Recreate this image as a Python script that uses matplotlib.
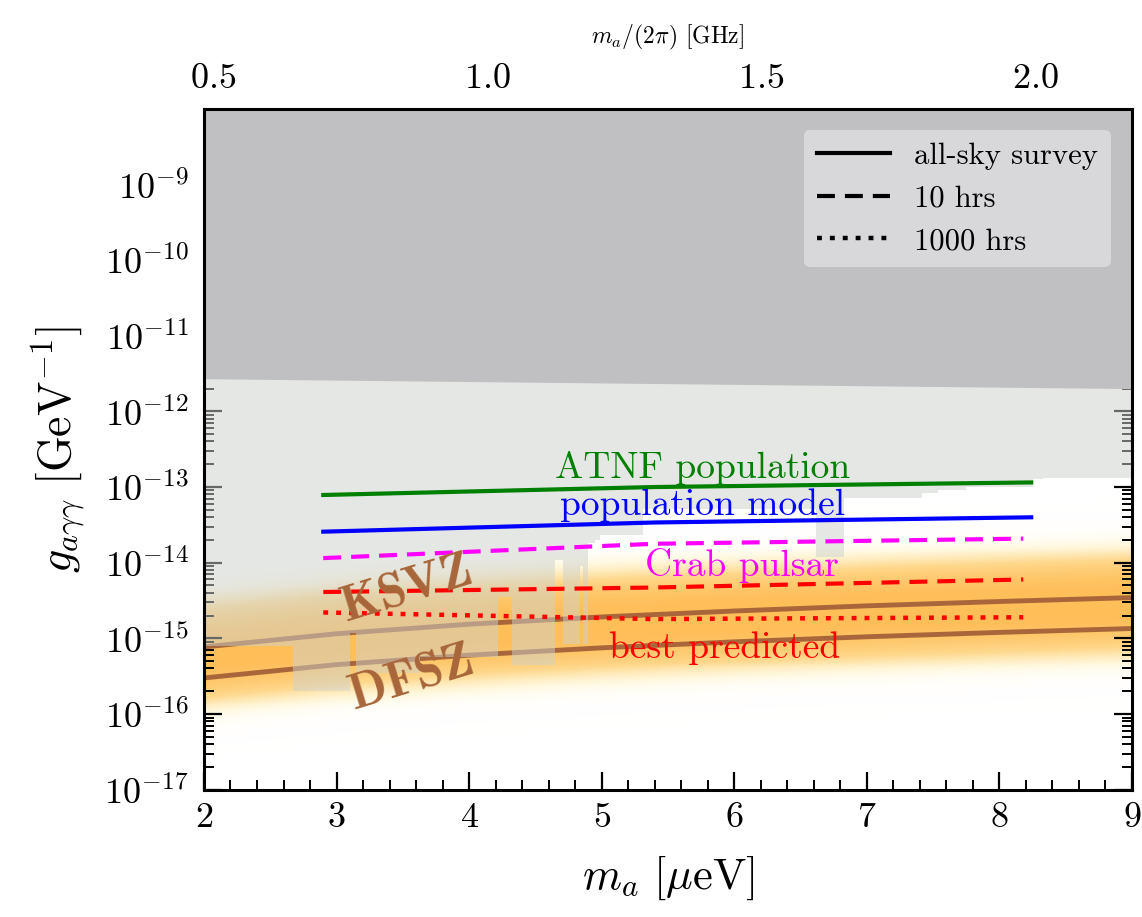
import numpy as np
import matplotlib
matplotlib.use("Agg")
import matplotlib.pyplot as plt
from matplotlib.colors import LinearSegmentedColormap
from matplotlib.lines import Line2D
from matplotlib.ticker import FixedLocator, MultipleLocator, LogLocator, NullFormatter

plt.rcParams['font.family'] = 'serif'
plt.rcParams['font.serif'] = ['cmr10', 'DejaVu Serif']
plt.rcParams['mathtext.fontset'] = 'cm'
plt.rcParams['axes.formatter.use_mathtext'] = True
plt.rcParams['axes.unicode_minus'] = False

# QCD axion model lines, read at integer masses [mu eV]
m_qcd = [2, 3, 4, 5, 6, 7, 8, 9]
g_ksvz = [7.7e-16, 1.15e-15, 1.54e-15, 1.92e-15, 2.3e-15, 2.69e-15, 3.07e-15, 3.46e-15]
g_dfsz = [3.0e-16, 4.5e-16, 6.0e-16, 7.5e-16, 9.0e-16, 1.05e-15, 1.2e-15, 1.35e-15]

# upper excluded region
m_astro = [2, 9]
g_astro = [2.7e-12, 2.0e-12]

# haloscope exclusions (step edges, lower bound of each step)
m_halo = [2.0, 2.67, 3.10, 3.15, 3.63, 4.22, 4.32, 4.65, 4.71, 4.84, 4.86, 4.90, 4.95, 4.99,
          5.31, 6.62, 6.83, 7.42, 7.54, 7.75, 8.25, 8.33, 9.0]
g_halo = [7.9e-16, 2.0e-16, 1.17e-15, 3.5e-16, 5.6e-16, 3.5e-15, 4.5e-16, 1.07e-14,
          8.3e-16, 9.0e-15, 8.3e-16, 1.8e-14, 2.0e-14, 2.3e-14, 5.2e-14, 1.2e-14, 7.1e-14,
          8.3e-14, 9.1e-14, 1.0e-13, 1.29e-13, 1.32e-13, 1.32e-13]

# projected sensitivities
m_solid = [2.9, 5.4, 8.24]
g_atnf = [7.85e-14, 1.0e-13, 1.15e-13]
g_popmodel = [2.57e-14, 3.4e-14, 3.98e-14]
m_dash = [2.9, 5.4, 8.18]
g_crab = [1.15e-14, 1.78e-14, 2.08e-14]
g_best_10 = [4.1e-15, 4.7e-15, 6.0e-15]
g_best_1000 = [2.2e-15, 1.8e-15, 1.9e-15]

brown = '#a8663a'
ev_to_ghz = 0.241799

fig = plt.figure(figsize=(11.42, 9.17), dpi=100)
ax = fig.add_axes([0.1786, 0.1388, 0.8126, 0.7427])
ax.set_yscale('log')
ax.set_xlim(2, 9)
ax.set_ylim(1e-17, 1e-8)

# QCD band
mm = np.linspace(2, 9, 300)
gg = np.logspace(-17, -8, 700)
M, G = np.meshgrid(mm, gg)
center = np.interp(M, m_qcd, np.log10(g_ksvz)) - 0.08
d = np.log10(G) - center
band = np.exp(-(np.abs(d) / 0.78) ** 3)
band_cmap = LinearSegmentedColormap.from_list(
    'band', [(1, 1, 1, 0), (1.0, 0.96, 0.80, 0.55), (0.996, 0.83, 0.50, 0.9),
             (0.996, 0.745, 0.345, 1.0)])
ax.pcolormesh(M, G, band, cmap=band_cmap, vmin=0, vmax=1, shading='auto',
              zorder=1, rasterized=True)

ax.plot(m_qcd, g_ksvz, '-', lw=3.5, color=brown, zorder=2)
ax.plot(m_qcd, g_dfsz, '-', lw=3.5, color=brown, zorder=2)

ax.fill_between(m_halo, g_halo, 1e-8, step='post', color='#cdd1cd', alpha=0.5,
                lw=0, zorder=3)
ax.fill_between(m_astro, g_astro, 1e-8, color='#c0c0c2', lw=0, zorder=3.5)

ax.plot(m_solid, g_atnf, '-', lw=3, color='green', zorder=4)
ax.plot(m_solid, g_popmodel, '-', lw=3, color='blue', zorder=4)
ax.plot(m_dash, g_crab, '-', lw=3, color='magenta', dashes=(4.3, 2.4), zorder=4)
ax.plot(m_dash, g_best_10, '-', lw=3, color='red', dashes=(4.3, 2.4), zorder=4)
ax.plot(m_dash, g_best_1000, '-', lw=3.2, color='red', dashes=(1.1, 1.8), zorder=4)

fs = 27
ax.text(5.76, 1.8e-13, 'ATNF population', color='green', fontsize=fs, ha='center', va='center', zorder=5)
ax.text(5.76, 5.8e-14, 'population model', color='blue', fontsize=fs, ha='center', va='center', zorder=5)
ax.text(6.06, 9.3e-15, 'Crab pulsar', color='magenta', fontsize=fs, ha='center', va='center', zorder=5)
ax.text(5.93, 7.4e-16, 'best predicted', color='red', fontsize=fs, ha='center', va='center', zorder=5)
ax.text(3.52, 4.4e-15, r'$\mathbf{KSVZ}$', color=brown, fontsize=36, ha='center', va='center',
        rotation=17, zorder=5)
ax.text(3.56, 2.9e-16, r'$\mathbf{DFSZ}$', color=brown, fontsize=36, ha='center', va='center',
        rotation=17, zorder=5)

# axes styling
for s in ax.spines.values():
    s.set_linewidth(2.2)
    s.set_zorder(10)
ax.xaxis.set_major_locator(MultipleLocator(1))
ax.xaxis.set_minor_locator(MultipleLocator(0.2))
ax.yaxis.set_major_locator(FixedLocator([10.0 ** k for k in range(-17, -8)]))
ax.yaxis.set_minor_locator(LogLocator(base=10, subs=np.arange(2, 10), numticks=20))
ax.yaxis.set_minor_formatter(NullFormatter())
ax.tick_params(which='both', direction='in', top=False, right=True, zorder=11)
ax.tick_params(which='major', length=13, width=1.6, labelsize=26)
ax.tick_params(which='minor', length=7, width=1.4)
ax.tick_params(axis='x', which='major', pad=9)
ax.tick_params(axis='y', which='major', pad=11)

ax.set_xlabel(r'$m_a\ [\mu\mathrm{eV}]$', fontsize=32, labelpad=14)
ax.set_ylabel(r'$g_{a\gamma\gamma}\ [\mathrm{GeV}^{-1}]$', fontsize=33, labelpad=12)

sec = ax.secondary_xaxis('top', functions=(lambda m: m * ev_to_ghz, lambda f: f / ev_to_ghz))
sec.set_xticks([0.5, 1.0, 1.5, 2.0])
sec.xaxis.set_minor_locator(MultipleLocator(0.1))
sec.tick_params(which='both', direction='in', color='#8a8a8a')
sec.tick_params(which='major', length=12, width=1.6, labelsize=26, pad=10)
sec.tick_params(which='minor', length=5, width=1.4)
sec.set_xlabel(r'$m_a/(2\pi)$ [GHz]', fontsize=17, labelpad=14)

handles = [Line2D([], [], color='k', lw=3, ls='-'),
           Line2D([], [], color='k', lw=3, dashes=(4.3, 2.4)),
           Line2D([], [], color='k', lw=3.2, dashes=(1.1, 1.8))]
leg = ax.legend(handles, ['all-sky survey', '10 hrs', '1000 hrs'], loc='upper right',
                fontsize=22, frameon=True, fancybox=True, facecolor='#d8d8da',
                edgecolor='none', framealpha=1, handlelength=2.4, borderaxespad=0.7)
leg.set_zorder(12)

fig.savefig('out.png', dpi=100)
